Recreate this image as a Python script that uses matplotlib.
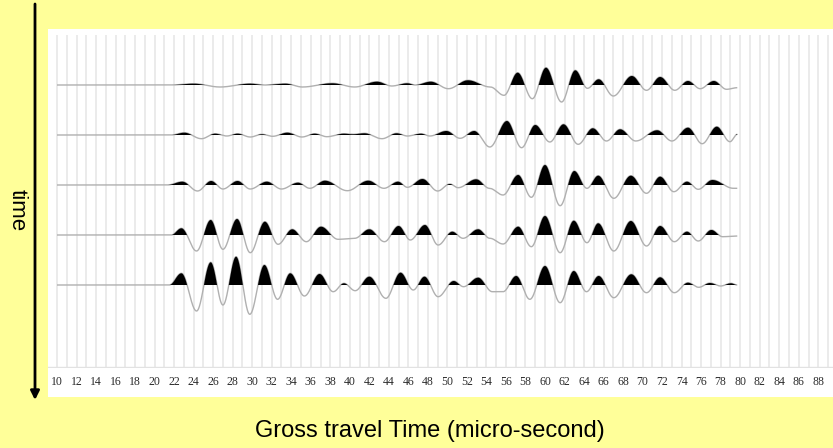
import numpy as np
import matplotlib
matplotlib.use("Agg")
import matplotlib.pyplot as plt
from matplotlib.patches import FancyArrowPatch

# ---------------- data (extrema of each wiggle trace: time in micro-s, relative amplitude) -------------
tick_labels = list(range(10, 89, 2))
grid_times = list(range(10, 90))

trace1_t = [21.7, 24.0, 26.7, 29.8, 31.3, 33.4, 35.15, 38.2, 40.5, 42.8, 44.3, 45.9, 46.7, 48.3, 50.1,
            52.1, 54.4, 55.8, 57.2, 58.7, 60.1, 61.7, 63.1, 64.35, 65.5, 67.0, 68.9, 70.4, 71.8, 73.3,
            74.65, 75.9, 77.3, 78.6, 79.7]
trace1_a = [0, 1.3, -2, 1.3, 0, 1.3, -2, 1.7, -2, 3.3, -1, 1.7, 0, 3.3, -3.7,
            4.7, -2, -10.3, 12.3, -13.7, 17.3, -17, 14.7, -3.3, 5.7, -11, 9, -5.3, 8, -5.3,
            4, -3.7, 4, -4.3, -2.7]

trace2_t = [21.7, 23.05, 24.8, 26.2, 27.4, 28.5, 29.8, 31.0, 32.1, 33.6, 35.1, 36.4, 37.65, 39.4, 40.3,
            41.5, 43.3, 44.8, 45.9, 47.3, 48.2, 49.9, 51.3, 52.75, 54.35, 56.1, 57.6, 59.0, 60.5, 61.9,
            63.4, 64.9, 66.3, 67.7, 69.3, 71.5, 73.0, 74.65, 76.1, 77.6, 78.95, 79.7]
trace2_a = [0, 2.3, -3.7, 1.3, -1, 1.3, -2, 0.7, -1.3, 2.3, -2, 1.3, -1.7, 1.3, 0.7,
            1.7, -3.7, 1.7, -1, 1.3, -1, 4, -3.3, 4, -12, 14, -12.7, 10, -7, 10.7,
            -9.3, 6.7, -6, 5.7, -6, 4.7, -6, 7.3, -8.7, 8.3, -6.7, 0.7]

trace3_t = [21.3, 22.85, 24.4, 25.8, 27.0, 28.5, 29.8, 31.5, 33.0, 34.7, 35.9, 37.45, 39.75, 41.9, 43.5,
            44.95, 45.9, 47.45, 49.0, 50.25, 51.1, 52.95, 54.3, 55.7, 57.25, 58.6, 60.0, 61.55, 63.0, 64.3,
            65.45, 67.05, 68.8, 70.4, 71.8, 73.2, 74.55, 75.7, 77.15, 79.3, 79.7]
trace3_a = [0, 3.3, -6, 4, -4, 4, -4, 3.3, -4, 2.3, -3.3, 4.3, -5.7, 4.3, -3.3,
            3.3, -2.3, 6, -6, 1, -2.7, 5.7, -3.3, -10, 10, -12.3, 20, -20.7, 14, -3.3,
            9.3, -13.3, 9.3, -8.3, 8.3, -6.7, 3.3, -4.3, 5, -3.3, -3.3]

trace4_t = [21.7, 22.75, 24.3, 25.75, 27.0, 28.45, 29.8, 31.3, 32.65, 34.1, 35.55, 37.05, 38.8, 40.5, 42.0,
            43.55, 45.0, 46.2, 47.7, 49.05, 50.5, 51.6, 53.15, 54.35, 55.7, 57.25, 58.6, 60.0, 61.55, 62.95,
            64.3, 65.45, 67.05, 68.8, 70.4, 71.8, 73.25, 74.55, 75.7, 77.05, 78.2, 79.7]
trace4_a = [0, 6.7, -16, 15, -14.3, 16, -17.7, 13.3, -9.3, 5.7, -6.7, 8.3, -4.3, -3.3, 5.7,
            -6.7, 9, -5, 10, -10, 3.3, -3.3, 5.7, -3.3, -9, 8.3, -11.7, 19, -17.7, 14.3,
            -7.7, 11.7, -16, 14, -11, 9, -6.7, 3.3, -6, 5, -1.7, -1]

trace5_t = [21.5, 22.75, 24.3, 25.75, 27.0, 28.35, 29.75, 31.25, 32.6, 33.9, 35.35, 36.9, 38.3, 39.4, 40.55,
            42.0, 43.7, 45.2, 46.5, 47.65, 49.05, 50.65, 51.65, 53.15, 54.6, 55.7, 57.05, 58.45, 60.0, 61.55,
            62.95, 64.25, 65.5, 67.05, 68.85, 70.4, 71.8, 73.25, 74.65, 75.75, 76.9, 78.0, 79.05, 79.7]
trace5_a = [0, 11.7, -26, 22.7, -20, 28.3, -29.3, 20, -14.3, 11.7, -11, 11, -6.7, 1.7, -5.7,
            8.3, -13.3, 12.3, -5, 8.3, -11.7, 4, -1.7, 7.3, -6.7, -6.7, 9, -14.3, 19, -17.7,
            14, -6.7, 9, -12.7, 10.7, -7.7, 7.7, -7.7, 2.3, -2.3, 2, -1, 1.7, 0]

traces = [(trace1_t, trace1_a), (trace2_t, trace2_a), (trace3_t, trace3_a),
          (trace4_t, trace4_a), (trace5_t, trace5_a)]

x_label = "Gross travel Time (micro-second)"
y_label = "time"
record_start = 10

# ---------------- figure ----------------
W, H = 833, 448
fig = plt.figure(figsize=(W / 100, H / 100), dpi=100, facecolor="#FFFF99")

# white panel
bg = fig.add_axes([48 / W, 1 - 397 / H, (833 - 48) / W, (397 - 29) / H])
bg.set_facecolor("white")
bg.set_xticks([])
bg.set_yticks([])
for s in bg.spines.values():
    s.set_visible(False)

ax = fig.add_axes([48 / W, 1 - 368 / H, (833 - 48) / W, (368 - 35) / H])
ax.set_facecolor("none")
ppu = 9.76
ax.set_xlim(10 - 9 / ppu, 10 + 776 / ppu)
ax.set_ylim(6.66, 0)
for s in ax.spines.values():
    s.set_visible(False)

ax.vlines(grid_times, 0, 6.66, color="#e9e9e9", lw=1.3, zorder=0)
ax.axhline(6.64, color="#e2e2e2", lw=1.0, zorder=0)

amp_scale = 1 / 50.0


def smooth(tk, ak, step=0.02):
    """Smooth wiggle through the read extrema (half-cosine between successive extrema)."""
    xs, ys = [], []
    for i in range(len(tk) - 1):
        t0, t1, a0, a1 = tk[i], tk[i + 1], ak[i], ak[i + 1]
        n = max(int((t1 - t0) / step), 2)
        u = np.linspace(0, 1, n, endpoint=False)
        xs.append(t0 + (t1 - t0) * u)
        ys.append(a0 + (a1 - a0) * (1 - np.cos(np.pi * u)) / 2)
    xs.append([tk[-1]])
    ys.append([ak[-1]])
    return np.concatenate(xs), np.concatenate(ys)


for i, (tk, ak) in enumerate(traces):
    base = i + 1
    xs, ys = smooth(tk, ak)
    xs = np.concatenate([[record_start], xs])
    ys = np.concatenate([[0], ys])
    yy = base - ys * amp_scale
    ax.plot(xs, yy, color="#b0b0b0", lw=1.0, zorder=2, solid_capstyle="butt")
    ax.fill_between(xs, base, yy, where=ys > 0, interpolate=True,
                    color="black", lw=0, zorder=3)

ax.set_yticks([])
ax.set_xticks(tick_labels)
ax.set_xticklabels([str(v) for v in tick_labels], family="Liberation Serif",
                   fontsize=8.5, color="#2a2a2a")
ax.tick_params(axis="x", length=0, pad=5.5)

# arrow and labels
fig.add_artist(FancyArrowPatch((35 / W, 1 - 4 / H), (35 / W, 1 - 400 / H),
                               transform=fig.transFigure, arrowstyle="-|>",
                               mutation_scale=13, lw=2, color="black",
                               shrinkA=0, shrinkB=0))
fig.text(17 / W, 1 - 210 / H, y_label, rotation=-90, ha="center", va="center",
         family="Liberation Sans", fontsize=16, color="black")
fig.text(430 / W, 1 - 436.5 / H, x_label, ha="center", va="baseline",
         family="Liberation Sans", fontsize=17, color="black")

fig.savefig("out.png", dpi=100, facecolor=fig.get_facecolor())
